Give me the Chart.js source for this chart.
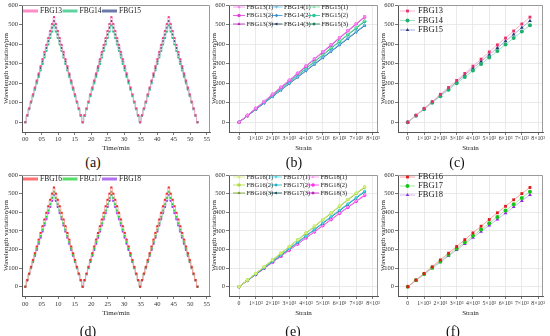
<!DOCTYPE html>
<html>
<head>
<meta charset="utf-8">
<script src="https://cdn.jsdelivr.net/npm/chart.js@4.4.1/dist/chart.umd.min.js"></script>
<style>
  body { margin: 0; background: #fff; }
  #fig { position: relative; width: 550px; height: 336px; overflow: hidden; }
  #fig canvas { position: absolute; }
  .tag { position: absolute; font-family: "Liberation Serif", serif; font-size: 14px; color: #111;
         transform: translate(-50%, -50%); white-space: nowrap; }
</style>
</head>
<body>
<div id="fig"></div>
<script>
// ---- data ----
const strain = [0, 500, 1000, 1500, 2000, 2500, 3000, 3500, 4000, 4500, 5000, 5500, 6000, 6500, 7000, 7500];

// (c) mean calibration, FBG13-15
const fbg13 = [0, 36, 71, 106, 143, 178, 214, 250, 287, 323, 360, 396, 431, 467, 503, 538];
const fbg14 = [0, 33, 66, 100, 133, 166, 199, 232, 265, 298, 331, 365, 398, 431, 464, 496];
const fbg15 = [0, 34, 69, 103, 138, 172, 207, 242, 277, 311, 346, 380, 415, 449, 484, 518];

// (b) three loading runs, FBG13-15
const fbg13Run1 = [0, 36, 72, 107, 144, 180, 216, 252, 289, 325, 362, 398, 434, 470, 506, 541];
const fbg13Run2 = [0, 35, 71, 106, 143, 179, 215, 251, 287, 324, 360, 396, 432, 468, 504, 539];
const fbg13Run3 = [0, 35, 70, 106, 142, 178, 213, 249, 286, 322, 358, 394, 430, 466, 502, 537];
const fbg14Run1 = [0, 33, 66, 100, 133, 166, 200, 233, 266, 300, 333, 366, 399, 432, 465, 498];
const fbg14Run2 = [0, 33, 66, 99, 132, 165, 199, 232, 265, 298, 331, 364, 397, 430, 463, 496];
const fbg14Run3 = [0, 32, 65, 98, 131, 164, 197, 230, 263, 296, 329, 362, 395, 428, 461, 494];
const fbg15Run1 = [0, 34, 69, 104, 139, 173, 208, 243, 278, 312, 347, 382, 416, 451, 486, 520];
const fbg15Run2 = [0, 34, 69, 103, 138, 172, 207, 242, 276, 311, 345, 380, 414, 449, 483, 517];
const fbg15Run3 = [0, 34, 68, 102, 137, 171, 206, 240, 275, 309, 344, 378, 413, 447, 481, 515];

// (f) mean calibration, FBG16-18
const fbg16 = [0, 36, 71, 107, 144, 180, 216, 253, 289, 325, 361, 397, 432, 467, 500, 533];
const fbg17 = [0, 34, 68, 102, 136, 171, 205, 239, 273, 307, 341, 375, 409, 443, 477, 510];
const fbg18 = [0, 33, 66, 99, 132, 165, 197, 230, 263, 296, 329, 362, 395, 428, 461, 493];

// (e) three loading runs, FBG16-18
const fbg16Run1 = [0, 36, 72, 108, 145, 181, 217, 253, 290, 326, 362, 398, 434, 470, 504, 537];
const fbg16Run2 = [0, 36, 71, 107, 144, 180, 216, 252, 288, 324, 360, 396, 432, 468, 502, 535];
const fbg16Run3 = [0, 35, 71, 106, 143, 179, 215, 251, 287, 323, 359, 395, 431, 466, 500, 533];
const fbg17Run1 = [0, 34, 68, 103, 137, 171, 206, 240, 274, 309, 343, 378, 412, 446, 480, 514];
const fbg17Run2 = [0, 34, 68, 102, 136, 170, 205, 239, 273, 307, 342, 376, 410, 444, 478, 512];
const fbg17Run3 = [0, 34, 67, 101, 135, 169, 203, 238, 272, 306, 340, 374, 408, 442, 476, 510];
const fbg18Run1 = [0, 33, 66, 99, 132, 165, 198, 231, 264, 297, 330, 363, 396, 429, 462, 494];
const fbg18Run2 = [0, 33, 66, 99, 131, 164, 197, 230, 263, 296, 329, 362, 395, 428, 460, 492];
const fbg18Run3 = [0, 33, 65, 98, 131, 163, 196, 229, 262, 294, 327, 360, 393, 426, 458, 490];

// time history (a)/(d): 3 load/unload cycles, one load step every ~0.58 min
const loadCycles = 3;
const stepMinutes = 0.58;

// ticks
const timeTicks = [0, 5, 10, 15, 20, 25, 30, 35, 40, 45, 50, 55];
const timeTickLabels = ['00', '05', '10', '15', '20', '25', '30', '35', '40', '45', '50', '55'];
const strainTicks = [0, 1000, 2000, 3000, 4000, 5000, 6000, 7000, 8000];
const strainTickLabels = ['0', '1×10³', '2×10³', '3×10³', '4×10³', '5×10³', '6×10³', '7×10³', '8×10³'];
const yTicks = [0, 100, 200, 300, 400, 500, 600];

// ---- helpers ----
const SERIF = '"Liberation Serif", "Times New Roman", serif';

// staircase: each load step held, going up then back down, repeated
function cycleSeries(vals) {
    const seq = [vals[0]];
    for (let c = 0; c < loadCycles; c++) {
        for (let i = 1; i < vals.length; i++) seq.push(vals[i]);
        for (let i = vals.length - 2; i >= 0; i--) seq.push(vals[i]);
    }
    return seq.map((v, i) => ({x: i * stepMinutes, y: v}));
}

function pairs(vals) {
    return vals.map((v, i) => ({x: strain[i], y: v}));
}

const framePlugin = {
    id: 'frame',
    afterDraw(chart) {
        const {ctx, chartArea: a} = chart;
        ctx.save();
        ctx.strokeStyle = '#9a9a9a';
        ctx.lineWidth = 1;
        ctx.beginPath();
        ctx.moveTo(a.left, a.top + 0.5);
        ctx.lineTo(a.right - 0.5, a.top + 0.5);
        ctx.lineTo(a.right - 0.5, a.bottom);
        ctx.stroke();
        ctx.restore();
    }
};

// legend drawn inside the plot, column-major
const insideLegend = {
    id: 'insideLegend',
    afterDraw(chart, args, opts) {
        if (!opts.rows) return;
        const {ctx, chartArea: a} = chart;
        ctx.save();
        ctx.font = opts.size + 'px ' + SERIF;
        ctx.textBaseline = 'middle';
        chart.data.datasets.forEach((ds, i) => {
            const col = Math.floor(i / opts.rows);
            const row = i % opts.rows;
            const x = a.left + opts.x + col * opts.colW;
            const y = a.top + opts.y + row * opts.rowH;
            ctx.strokeStyle = ds.legendLine || ds.borderColor;
            ctx.lineWidth = opts.lineWidth;
            ctx.beginPath();
            ctx.moveTo(x, y);
            ctx.lineTo(x + opts.lineLen, y);
            ctx.stroke();
            if (opts.marker) {
                ctx.fillStyle = ds.pointBackgroundColor;
                Chart.helpers.drawPoint(ctx, {
                    pointStyle: ds.pointStyle, radius: opts.markerR,
                    rotation: ds.pointRotation || 0, borderWidth: 0
                }, x + opts.lineLen / 2, y);
            }
            ctx.fillStyle = '#222';
            ctx.fillText(ds.label, x + opts.lineLen + opts.gap, y);
        });
        ctx.restore();
    }
};

function makeScales(p) {
    const tickFont = {family: SERIF, size: 6.5};
    const xTickFont = {family: SERIF, size: p.xTickSize};
    const titleFont = {family: SERIF, size: 7};
    const gridColor = p.grid ? '#e4e4e4' : 'transparent';
    return {
        x: {
            type: 'linear', min: p.xmin, max: p.xmax,
            afterBuildTicks: ax => { ax.ticks = p.xticks.map(v => ({value: v})); },
            ticks: {
                autoSkip: false, maxRotation: 0, padding: p.xTickPad, color: '#333', font: xTickFont,
                callback: (v) => p.xlabels[p.xticks.indexOf(v)]
            },
            grid: {color: gridColor, tickColor: '#555', tickLength: 3, lineWidth: 0.8},
            border: {color: '#555', width: 1},
            title: {display: true, text: p.xtitle, color: '#222', font: titleFont, padding: 0},
            afterFit: ax => { ax.height = p.xh; }
        },
        y: {
            type: 'linear', min: -50, max: 600,
            afterBuildTicks: ax => { ax.ticks = yTicks.map(v => ({value: v})); },
            ticks: {padding: 1, color: '#333', font: tickFont},
            grid: {color: gridColor, tickColor: '#555', tickLength: 3, lineWidth: 0.8},
            border: {color: '#555', width: 1},
            title: {display: true, text: 'Wavelength variation/pm', color: '#222', font: titleFont,
                    padding: {top: p.ytitlePad, bottom: 0}},
            afterFit: ax => { ax.width = p.yw; }
        }
    };
}

function addPanel(p) {
    const canvas = document.createElement('canvas');
    canvas.width = p.w;
    canvas.height = p.h;
    canvas.style.left = p.left + 'px';
    canvas.style.top = p.top + 'px';
    document.getElementById('fig').appendChild(canvas);
    new Chart(canvas.getContext('2d'), {
        type: 'line',
        data: {datasets: p.datasets},
        options: {
            responsive: false,
            animation: false,
            devicePixelRatio: 1,
            events: [],
            layout: {padding: {top: p.padTop, right: p.padRight, left: 0, bottom: 0}},
            scales: makeScales(p),
            plugins: {
                legend: {display: false},
                tooltip: {enabled: false},
                insideLegend: p.legend
            }
        },
        plugins: [framePlugin, insideLegend]
    });
    const tag = document.createElement('div');
    tag.className = 'tag';
    tag.textContent = p.tag;
    tag.style.left = p.tagX + 'px';
    tag.style.top = p.tagY + 'px';
    document.getElementById('fig').appendChild(tag);
}

function timeSet(label, vals, marker, line, legendLine) {
    return {
        label, data: cycleSeries(vals), stepped: 'middle',
        borderColor: line, borderWidth: 0.8, legendLine,
        pointStyle: 'rect', pointRadius: 1.4, pointBorderWidth: 0,
        pointBackgroundColor: marker
    };
}

function strainSet(label, vals, color, style, rot, line, r) {
    return {
        label, data: pairs(vals),
        borderColor: line || color, borderWidth: 0.8,
        pointStyle: style, pointRotation: rot || 0, pointRadius: r || 1.8, pointBorderWidth: 0,
        pointBackgroundColor: color
    };
}

const timeAxis = {xmin: -1, xmax: 56, xticks: timeTicks, xlabels: timeTickLabels, xtitle: 'Time/min', grid: false, xTickSize: 6.5};
const strainAxis = {xmin: -600, xmax: 8300, xticks: strainTicks, xlabels: strainTickLabels, xtitle: 'Strain', grid: true, xTickSize: 5.8};
const topRow = {top: 0, h: 152, padTop: 5, xh: 20, tagY: 163, xTickPad: 0};
const botRow = {top: 170, h: 147, padTop: 5, xh: 21, tagY: 332, xTickPad: 1};

// (a)
addPanel(Object.assign({}, timeAxis, topRow, {
    left: 0, w: 215, padRight: 5, yw: 22, ytitlePad: 2, tag: '(a)', tagX: 93,
    datasets: [
        timeSet('FBG13', fbg13, '#f0468c', '#f6a8c8', '#ff8cc6'),
        timeSet('FBG14', fbg14, '#2fbf86', '#94dcbc', '#5ed3a0'),
        timeSet('FBG15', fbg15, '#34467e', '#9aa8cc', '#6b7aa8')
    ],
    legend: {rows: 1, x: 1, y: 6, colW: 39.5, rowH: 0, lineLen: 15, lineWidth: 3, gap: 2, size: 7.5, marker: false}
}));

// (b)
addPanel(Object.assign({}, strainAxis, topRow, {
    left: 210, w: 173, padRight: 5, yw: 19, ytitlePad: 0, tag: '(b)', tagX: 294,
    datasets: [
        strainSet('FBG13(1)', fbg13Run1, '#f78cf0', 'rect'),
        strainSet('FBG13(2)', fbg13Run2, '#e53ae0', 'circle'),
        strainSet('FBG13(3)', fbg13Run3, '#b81cb8', 'triangle'),
        strainSet('FBG14(1)', fbg14Run1, '#6cc0e8', 'triangle', 180),
        strainSet('FBG14(2)', fbg14Run2, '#2b8fd4', 'rectRot'),
        strainSet('FBG14(3)', fbg14Run3, '#1c3550', 'triangle', -90),
        strainSet('FBG15(1)', fbg15Run1, '#7fe3a8', 'triangle', 90),
        strainSet('FBG15(2)', fbg15Run2, '#1fc79a', 'circle'),
        strainSet('FBG15(3)', fbg15Run3, '#188257', 'rectRot')
    ],
    legend: {rows: 3, x: 4, y: 2, colW: 37.5, rowH: 8.5, lineLen: 12, lineWidth: 0.8, gap: 1.5, size: 6.5, marker: true, markerR: 1.8}
}));

// (c)
addPanel(Object.assign({}, strainAxis, topRow, {
    left: 379, w: 171, padRight: 7, yw: 19, ytitlePad: 0, tag: '(c)', tagX: 457,
    datasets: [
        strainSet('FBG13', fbg13, '#e8306a', 'rect', 0, '#ff9ec0', 2),
        strainSet('FBG14', fbg14, '#1fae6e', 'circle', 0, '#86dcb4', 2),
        strainSet('FBG15', fbg15, '#27387a', 'triangle', 0, '#8ea0d0', 2.2)
    ],
    legend: {rows: 3, x: 2, y: 6, colW: 0, rowH: 9.5, lineLen: 15, lineWidth: 0.8, gap: 3, size: 8.5, marker: true, markerR: 2}
}));

// (d)
addPanel(Object.assign({}, timeAxis, botRow, {
    left: 0, w: 215, padRight: 5, yw: 22, ytitlePad: 2, tag: '(d)', tagX: 88,
    datasets: [
        timeSet('FBG16', fbg16, '#ee2a2a', '#ff9a9a', '#ff7070'),
        timeSet('FBG17', fbg17, '#1fcf3a', '#8fe89a', '#55dd66'),
        timeSet('FBG18', fbg18, '#a040f0', '#c89af5', '#b070f0')
    ],
    legend: {rows: 1, x: 1, y: 4, colW: 39.5, rowH: 0, lineLen: 15, lineWidth: 3, gap: 2, size: 7.5, marker: false}
}));

// (e)
addPanel(Object.assign({}, strainAxis, botRow, {
    left: 210, w: 173, padRight: 5, yw: 19, ytitlePad: 0, tag: '(e)', tagX: 293,
    datasets: [
        strainSet('FBG16(1)', fbg16Run1, '#d0ee80', 'rect'),
        strainSet('FBG16(2)', fbg16Run2, '#afdc3c', 'circle'),
        strainSet('FBG16(3)', fbg16Run3, '#6f9a1e', 'triangle'),
        strainSet('FBG17(1)', fbg17Run1, '#49d7e6', 'triangle', 180),
        strainSet('FBG17(2)', fbg17Run2, '#16b2c6', 'rectRot'),
        strainSet('FBG17(3)', fbg17Run3, '#0b4a56', 'triangle', -90),
        strainSet('FBG18(1)', fbg18Run1, '#ff9cf6', 'triangle', 90),
        strainSet('FBG18(2)', fbg18Run2, '#ff2cf2', 'circle'),
        strainSet('FBG18(3)', fbg18Run3, '#c11fc4', 'rectRot')
    ],
    legend: {rows: 3, x: 4, y: 2, colW: 37, rowH: 8, lineLen: 12, lineWidth: 0.8, gap: 1.5, size: 6.5, marker: true, markerR: 1.8}
}));

// (f)
addPanel(Object.assign({}, strainAxis, botRow, {
    left: 379, w: 171, padRight: 7, yw: 19, ytitlePad: 0, tag: '(f)', tagX: 453,
    datasets: [
        strainSet('FBG16', fbg16, '#e01a1a', 'rect', 0, '#ff8c8c', 2),
        strainSet('FBG17', fbg17, '#17c317', 'circle', 0, '#8ae88a', 2),
        strainSet('FBG18', fbg18, '#8a2be2', 'triangle', 0, '#c6a3f5', 2.2)
    ],
    legend: {rows: 3, x: 2, y: 2, colW: 0, rowH: 9, lineLen: 15, lineWidth: 0.8, gap: 3, size: 8.5, marker: true, markerR: 2}
}));
</script>
</body>
</html>
